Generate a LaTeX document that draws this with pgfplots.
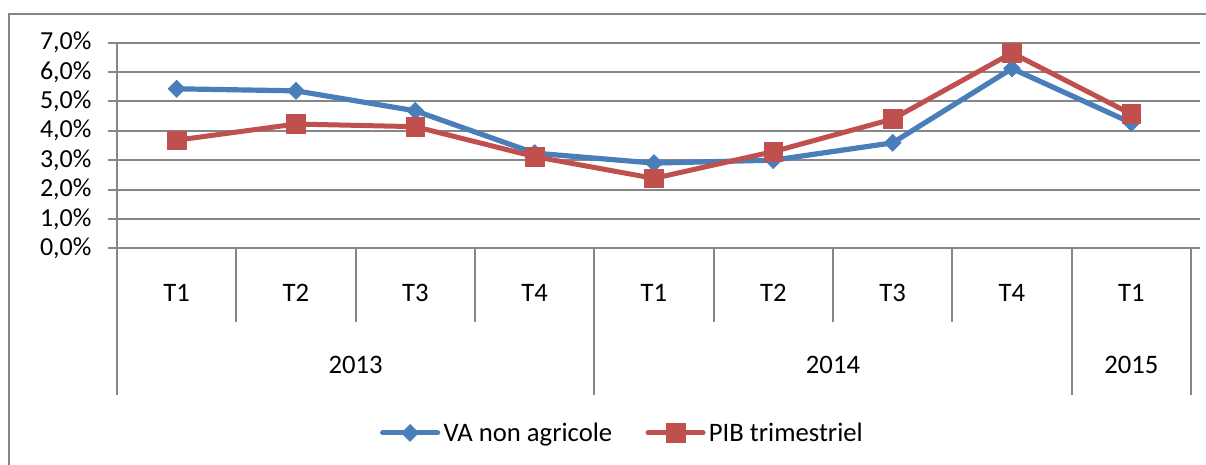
\documentclass[border=0pt]{standalone}
\usepackage{fontspec}
\setmainfont{Carlito}
\usepackage{pgfplots}
\pgfplotsset{compat=1.18}
\definecolor{xblue}{HTML}{4A7EBB}
\definecolor{xred}{HTML}{C0504D}
\definecolor{xgrid}{HTML}{868686}
\begin{document}
\begin{tikzpicture}
\path[use as bounding box] (-87.75pt,-162.5pt) rectangle (816.75pt,186.2pt);
\draw[xgrid, line width=1.5pt] (-80.8pt,-180pt) rectangle (830pt,175.7pt);
\begin{axis}[
  at={(0pt,0pt)}, anchor=south west,
  width=805.5pt, height=154.2pt, scale only axis,
  xmin=-0.5, xmax=8.5, ymin=0, ymax=7,
  clip=false,
  axis line style={draw=none},
  ymajorgrids, grid style={xgrid, line width=1.5pt},
  tick align=outside, major tick length=6.75pt,
  ytick={0,1,2,3,4,5,6,7},
  yticklabels={{0,0\%},{1,0\%},{2,0\%},{3,0\%},{4,0\%},{5,0\%},{6,0\%},{7,0\%}},
  ytick style={xgrid, line width=1.5pt},
  yticklabel style={font=\fontsize{19.5}{22}\selectfont, inner sep=0pt, xshift=-12.2pt},
  xtick={0,1,2,3,4,5,6,7,8},
  xticklabels={T1,T2,T3,T4,T1,T2,T3,T4,T1},
  xtick style={draw=none},
  xticklabel style={font=\fontsize{20}{24}\selectfont, anchor=center, yshift=-26.8pt},
  /pgf/number format/assume math mode=true,
  legend columns=-1,
  legend style={draw=none, fill=none, inner sep=0pt, outer sep=0pt,
    at={(0.2449,-0.898)}, anchor=west,
    font=\fontsize{20}{24}\selectfont,
    nodes={inner sep=0pt, outer sep=0pt},
    /tikz/every odd column/.append style={column sep=2.5pt},
    /tikz/every even column/.append style={column sep=25pt}},
  legend image code/.code={\draw[mark repeat=2, mark phase=2, line cap=round, #1]
     plot coordinates {(0pt,0pt) (20.6pt,0pt) (41.25pt,0pt)};},
]
\draw[xgrid, line width=1.5pt] (axis cs:-0.5,7) -- (axis cs:-0.5,-4.995);
\draw[xgrid, line width=1.5pt] (axis cs:8.5,0) -- (axis cs:8.5,-4.995);
\draw[xgrid, line width=1.5pt] (axis cs:3.5,0) -- (axis cs:3.5,-4.995);
\draw[xgrid, line width=1.5pt] (axis cs:7.5,0) -- (axis cs:7.5,-4.995);
\draw[xgrid, line width=1.5pt] (axis cs:0.5,0) -- (axis cs:0.5,-2.5);
\draw[xgrid, line width=1.5pt] (axis cs:1.5,0) -- (axis cs:1.5,-2.5);
\draw[xgrid, line width=1.5pt] (axis cs:2.5,0) -- (axis cs:2.5,-2.5);
\draw[xgrid, line width=1.5pt] (axis cs:4.5,0) -- (axis cs:4.5,-2.5);
\draw[xgrid, line width=1.5pt] (axis cs:5.5,0) -- (axis cs:5.5,-2.5);
\draw[xgrid, line width=1.5pt] (axis cs:6.5,0) -- (axis cs:6.5,-2.5);
\node[font=\fontsize{20}{24}\selectfont] at (axis cs:1.5,-3.97) {2013};
\node[font=\fontsize{20}{24}\selectfont] at (axis cs:5.5,-3.97) {2014};
\node[font=\fontsize{20}{24}\selectfont] at (axis cs:8,-3.97) {2015};

\addplot[xblue, line width=3.9pt, line join=round,
  mark=square*, mark size=4.5pt, mark options={rotate=45, fill=xblue, draw=xblue, line width=0.5pt}]
  coordinates {(0,5.43) (1,5.36) (2,4.68) (3,3.24) (4,2.90) (5,3.00) (6,3.59) (7,6.12) (8,4.27)};
\addlegendentry{VA non agricole}
\addplot[xred, line width=3.75pt, line join=round,
  mark=square*, mark size=7pt, mark options={fill=xred, draw=xred, line width=0.5pt}]
  coordinates {(0,3.68) (1,4.23) (2,4.14) (3,3.12) (4,2.38) (5,3.29) (6,4.40) (7,6.65) (8,4.57)};
\addlegendentry{PIB trimestriel}
\end{axis}
\end{tikzpicture}
\end{document}
